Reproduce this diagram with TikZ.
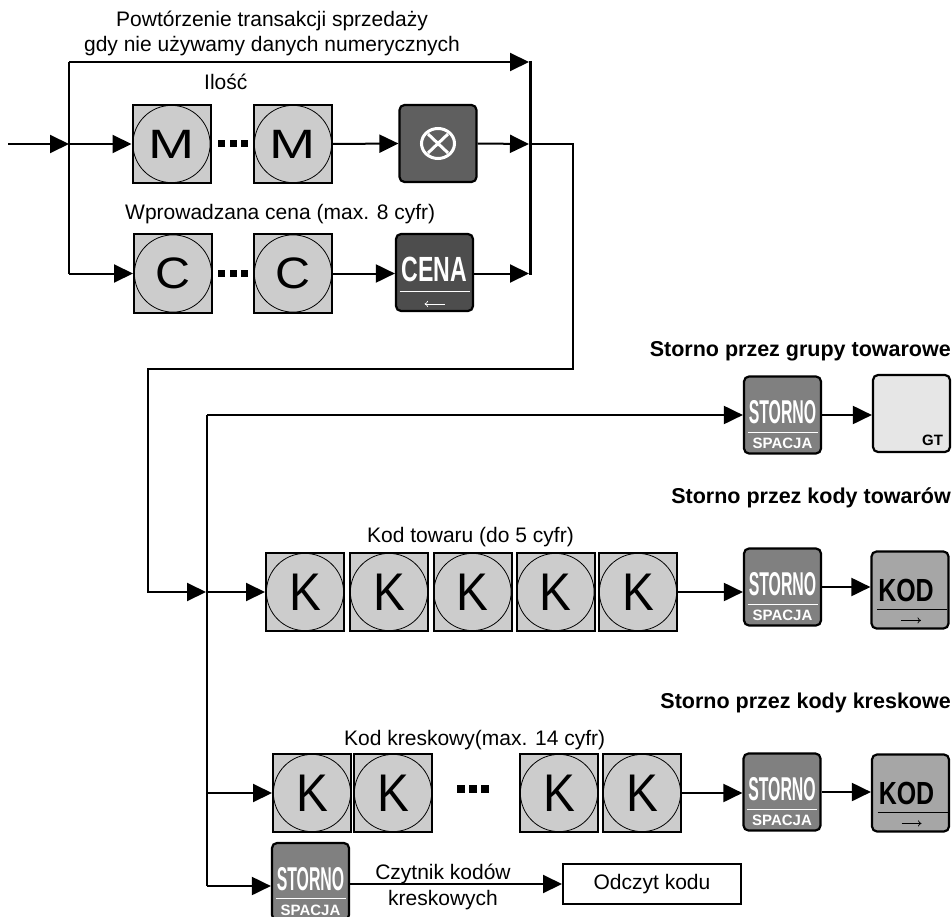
\documentclass[tikz,border=0pt]{standalone}
\usepackage{fontspec}
\setmainfont{Liberation Sans}
\usepackage{graphicx}
\usetikzlibrary{arrows.meta,calc}
\definecolor{numgray}{HTML}{CCCCCC}
\definecolor{stgray}{HTML}{808080}
\definecolor{xgray}{HTML}{5F5F5F}
\definecolor{cenagray}{HTML}{4D4D4D}
\definecolor{kodgray}{HTML}{A6A6A6}
\definecolor{gtgray}{HTML}{E6E6E6}
\newcommand\StornoKey[3]{%
  \node[rkey,fill=stgray] (#1) at (#2,#3) {};
  \node[wtxt,anchor=base,font=\bfseries\fontsize{33}{33}\selectfont] (#1-top) at ($(#1.north)+(0,48.5)$) {\scalebox{0.48}[1]{STORNO}};
  \draw[white,line width=0.8pt] ($(#1.north)+(-35,56.5)$) -- ($(#1.north)+(35,56.5)$);
  \node[wtxt,anchor=base,font=\bfseries\fontsize{15}{15}\selectfont] (#1-bot) at ($(#1.north)+(0,73.5)$) {SPACJA};
}
\newcommand\KodKey[3]{%
  \node[rkey,fill=kodgray] (#1) at (#2,#3) {};
  \node[inner sep=0pt,anchor=base,font=\bfseries\fontsize{32}{32}\selectfont] (#1-top) at ($(#1.north)+(-4,51)$) {\scalebox{0.78}[1]{KOD}};
  \draw[line width=0.8pt] ($(#1.north)+(-33,59)$) -- ($(#1.north)+(37,59)$);
  \draw[line width=0.7pt,-{To[length=3.5pt,width=6pt]}] ($(#1.north)+(-9,70)$) -- ($(#1.north)+(11,70)$);
}
\begin{document}
\begin{tikzpicture}[x=1pt,y=-1pt,
  conn/.style={line width=2pt},
  arr/.style={line width=2pt,-{Triangle[length=19pt,width=18pt]}},
  numkey/.style={draw,line width=2pt,fill=numgray,minimum width=78pt,minimum height=78pt,inner sep=0pt,
     path picture={\draw[line width=0.8pt] (path picture bounding box.center) circle[radius=38.6pt];}},
  rkey/.style={draw,line width=2.2pt,rounded corners=5pt,minimum width=77pt,minimum height=77pt,inner sep=0pt},
  lbl/.style={font=\fontsize{21}{25}\selectfont, inner sep=0pt},
  hd/.style={font=\bfseries\fontsize{21.5}{25}\selectfont, inner sep=0pt},
  wtxt/.style={text=white, inner sep=0pt},
  mfont/.style={font=\fontsize{41}{41}\selectfont},
  cfont/.style={font=\fontsize{44}{44}\selectfont},
  kfont/.style={font=\fontsize{53}{53}\selectfont},
]
\useasboundingbox[fill=white] (0,0) rectangle (952,917);

% ---------- top part ----------
\node[lbl,anchor=base] (t1) at (272,27) {Powtórzenie transakcji sprzedaży};
\node[lbl,anchor=base] (t2) at (272,52) {gdy nie używamy danych numerycznych};
\node[lbl,anchor=base west] (ilosc) at (204,90) {Ilość};
\node[lbl,anchor=base west] (cena) at (125,220) {Wprowadzana cena (max. 8 cyfr)};

\node[numkey,mfont] (m1) at (171.5,144) {\scalebox{1.35}[1]{M}};
\node[numkey,mfont] (m2) at (293,144) {\scalebox{1.35}[1]{M}};
\node[numkey,cfont] (c1) at (173,273.5) {\scalebox{1.1}[1]{C}};
\node[numkey,cfont] (c2) at (293,273.5) {\scalebox{1.1}[1]{C}};
\foreach \xx in {221.5,233,244.5} {
  \fill (\xx-3.5,140.5) rectangle ++(7,7);
  \fill (\xx-3.5,270) rectangle ++(7,7);
}

% X key
\node[rkey,fill=xgray] (xk) at (438,143.5) {};
\draw[white,line width=3pt] (xk.center) ellipse[x radius=16.5pt, y radius=15pt];
\draw[white,line width=3pt] ($(xk.center)+(-10,-9.5)$) -- ($(xk.center)+(10,9.5)$)
                               ($(xk.center)+(-10,9.5)$) -- ($(xk.center)+(10,-9.5)$);
% CENA key
\node[rkey,fill=cenagray] (ck) at (434.5,272.5) {};
\node[wtxt,anchor=base,font=\bfseries\fontsize{35}{35}\selectfont] (ck-top) at ($(ck.north)+(0,49)$) {\scalebox{0.66}[1]{CENA}};
\draw[white,line width=0.8pt] ($(ck.north)+(-35,58)$) -- ($(ck.north)+(35,58)$);
\draw[white,line width=0.7pt,-{To[length=3.5pt,width=6pt]}] ($(ck.north)+(10,71)$) -- ($(ck.north)+(-10,71)$);

% connectors top
\coordinate (in) at (8,144);
\coordinate (bA) at (69,144);
\coordinate (bT) at (69,62);
\coordinate (bB) at (69,273.5);
\coordinate (rT) at (529,62);
\coordinate (rM) at (529,144);
\coordinate (rB) at (529,273.5);
\coordinate (barT) at (530.5,61);
\coordinate (barB) at (530.5,274.5);
\coordinate (oS) at (530.5,144);
\coordinate (oE) at (206,592);

\draw[line width=2.5pt] (barT) -- (barB);
\draw[arr] (in) -- (bA);
\draw[conn] (bT) -- (bB);
\draw[arr] (bT) -- (rT);
\draw[arr] (bA) -- (m1.west);
\draw[arr] (bB) -- (c1.west);
\draw[arr] (m2.east) -- (xk.west);
\draw[arr] (c2.east) -- (c2.east -| ck.west);
\draw[arr] (xk.east) -- (rM);
\draw[arr] (ck.east |- rB) -- (rB);
\draw[arr] (oS) -- (573,144) -- (573,369) -- (148,369) -- (148,592) -- (oE);

% ---------- lower part ----------
\coordinate (vT) at (207,415);
\coordinate (vK) at (207,592);
\coordinate (vL) at (207,793);
\coordinate (vB) at (207,886);
\draw[conn] (vT) -- (vB);

% Storno przez grupy towarowe
\node[hd,anchor=base east] (h1) at (951,356) {Storno przez grupy towarowe};
\StornoKey{s1}{782.5}{415}
\node[rkey,fill=gtgray] (gt) at (911.5,413.5) {};
\node[inner sep=0pt,anchor=base east,font=\bfseries\fontsize{15}{15}\selectfont] (gt-t) at ($(gt.north east)+(-8,72)$) {GT};
\draw[arr] (vT) -- (s1.west);
\draw[arr] (s1.east) -- (s1.east -| gt.west);

% Storno przez kody towarow
\node[hd,anchor=base east] (h2) at (951,503) {Storno przez kody towarów};
\node[lbl,anchor=base west] (kt) at (367,542) {Kod towaru (do 5 cyfr)};
\node[numkey,kfont] (k1) at (305,592) {\scalebox{0.9}[1]{K}};
\node[numkey,kfont] (k2) at (389,592) {\scalebox{0.9}[1]{K}};
\node[numkey,kfont] (k3) at (472.5,592) {\scalebox{0.9}[1]{K}};
\node[numkey,kfont] (k4) at (555.5,592) {\scalebox{0.9}[1]{K}};
\node[numkey,kfont] (k5) at (638,592) {\scalebox{0.9}[1]{K}};
\StornoKey{s2}{782.5}{587}
\KodKey{kd2}{910}{590}
\draw[arr] (vK) -- (k1.west);
\draw[arr] (k5.east) -- (k5.east -| s2.west);
\draw[arr] (s2.east) -- (s2.east -| kd2.west);

% Storno przez kody kreskowe
\node[hd,anchor=base east] (h3) at (951,708) {Storno przez kody kreskowe};
\node[lbl,anchor=base west] (kk) at (344,745) {Kod kreskowy(max. 14 cyfr)};
\node[numkey,kfont] (l1) at (312,793) {\scalebox{0.9}[1]{K}};
\node[numkey,kfont] (l2) at (393,793) {\scalebox{0.9}[1]{K}};
\node[numkey,kfont] (l3) at (559,793) {\scalebox{0.9}[1]{K}};
\node[numkey,kfont] (l4) at (642,793) {\scalebox{0.9}[1]{K}};
\foreach \xx in {461,473,485} {
  \fill (\xx-4,785) rectangle ++(8,8);
}
\StornoKey{s3}{782}{792}
\KodKey{kd3}{910.5}{793}
\draw[arr] (vL) -- (l1.west);
\draw[arr] (l4.east) -- (l4.east -| s3.west);
\draw[arr] (s3.east) -- (s3.east -| kd3.west);

% Czytnik kodow
\StornoKey{s4}{310.5}{881.5}
\node[draw,line width=2pt,minimum width=178pt,minimum height=40pt,inner sep=0pt,font=\fontsize{21}{25}\selectfont] (odc) at (652,884) {Odczyt kodu};
\node[lbl,anchor=base] (cz1) at (443,879) {Czytnik kodów};
\node[lbl,anchor=base] (cz2) at (443,905) {kreskowych};
\draw[arr] (vB) -- (vB -| s4.west);
\draw[arr] (s4.east |- odc) -- (odc.west);
\end{tikzpicture}
\end{document}
